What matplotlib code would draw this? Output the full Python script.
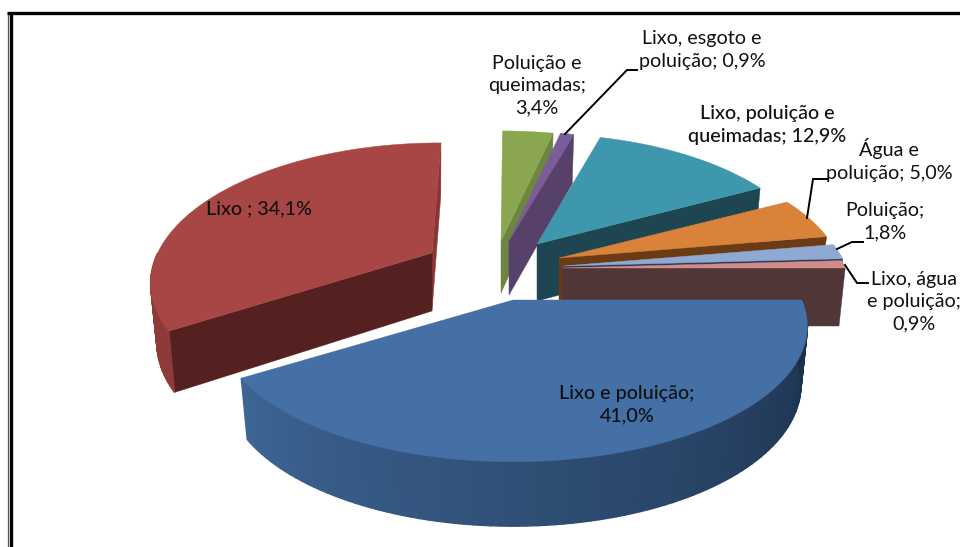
import numpy as np
import matplotlib
matplotlib.use('Agg')
import matplotlib.pyplot as plt
from matplotlib.patches import Polygon

# slice values, clockwise starting at 3 o'clock
names = ['Lixo e poluição;\n', 'Lixo ; ', 'Poluição e\nqueimadas;\n', 'Lixo, esgoto e\npoluição; ',
         'Lixo, poluição e\nqueimadas; ', 'Água e\npoluição; ', 'Poluição;\n', 'Lixo, água\ne poluição;\n']
values = [41.0, 34.1, 3.4, 0.9, 12.9, 5.0, 1.8, 0.9]

top_colors = ['#4470a5', '#a74644', '#8aa64f', '#7a5c9a', '#3f97ae', '#d9823a', '#8fa9d3', '#d18c8a']
wall_colors = ['#2a4468', '#552020', '#6c8540', '#574069', '#1d4552', '#6a3b14', '#2c3e55', '#503636']

# exploded position of each slice tip on the page
tip_x = [513, 432, 501, 509, 537, 559, 563, 562]
tip_y = [300, 253, 241, 241, 244, 258, 266, 268]
slice_scale = [0.98, 0.93, 0.96, 0.95, 0.93, 0.95, 0.96, 0.96]
slice_skew = [0, 9, 0, 0, 0, 0, 0, 0]
slice_depth = [58, 58, 52, 54, 57, 42, 58, 58]

label_x = [627, 259, 537, 702, 767, 889, 885, 914]
label_y = [405, 209, 86, 50, 125, 160, 222, 302]

RX, RY, PERSP = 295, 131, 0.19


def rim(theta, i):
    t = np.radians(theta)
    u, v = np.cos(t), np.sin(t)
    d = 1 + PERSP * v
    x = tip_x[i] + (RX * slice_scale[i] * u + slice_skew[i] * v) / d
    y = tip_y[i] - RY * v / d
    return x, y


def low(theta, i):
    # bottom edge of the wall under a rim point, drawn slightly inward
    x, y = rim(theta, i)
    d = slice_depth[i] / (1 + 0.1 * np.sin(np.radians(theta)))
    return tip_x[i] + (x - tip_x[i]) * 0.978, y + d


def face(ax, pts, color, z, lw=0.3):
    ax.add_patch(Polygon(pts, closed=True, fc=color, ec=color, lw=lw, zorder=z))


def shade(c1, c2, f):
    a = np.array(matplotlib.colors.to_rgb(c1))
    b = np.array(matplotlib.colors.to_rgb(c2))
    return tuple(a + (b - a) * f)


fig = plt.figure(figsize=(9.6, 5.47), dpi=100)
ax = fig.add_axes([0, 0, 1, 1])
ax.set_xlim(0, 960)
ax.set_ylim(547, 0)
ax.axis('off')

plt.rcParams['font.family'] = ['Lato', 'DejaVu Sans']

# angles from values
ends = 360 - np.cumsum(values) * 3.6
starts = np.r_[360, ends[:-1]]
draw_order = [1, 2, 3, 4, 5, 6, 7, 0]

for z, i in enumerate(draw_order):
    a1, a0 = starts[i], ends[i]   # a1 > a0
    base = z * 10 + 2
    tip = (tip_x[i], tip_y[i])
    tip_low = (tip_x[i], tip_y[i] + slice_depth[i])

    # cut face towards the viewer, the far cut of the red slice shows as a sliver
    if i == 1:
        face(ax, [tip, rim(a0, i), low(a0, i), tip_low], '#8a3533', base)
        face(ax, [tip, rim(a1, i), low(a1, i), tip_low], wall_colors[i], base)
    elif i != 0:
        face(ax, [tip, rim(a0, i), low(a0, i), tip_low], wall_colors[i], base)

    # outer rim wall, only where it faces front
    lo, hi = max(a0, 180), min(a1, 362)
    if hi > lo:
        steps = np.arange(lo, hi + 1.5, 1.5)
        for k in range(len(steps) - 1):
            s, e = steps[k], min(steps[k + 1], hi)
            f = (s - lo) / max(hi - lo, 1)
            if i == 0:
                col = shade('#3d6594', '#1b2e48', f)
            else:
                col = '#8e3a38'
            face(ax, [rim(s, i), rim(e, i), low(e, i), low(s, i)], col, base + 1, lw=1.0)

    # top face
    th = np.linspace(a1, a0, 120)
    xr, yr = rim(th, i)
    face(ax, [tip] + list(zip(xr, yr)), top_colors[i], base + 2)

# data labels
for i in range(len(values)):
    txt = names[i] + ('%.1f' % values[i]).replace('.', ',') + '%'
    ax.text(label_x[i], label_y[i], txt, ha='center', va='center', fontsize=14.2, color='#111111',
            linespacing=1.38, zorder=200, fontweight='medium' if i in (0, 1, 4) else 'normal')

# leader lines
leaders_x = [[565, 627, 637], [807, 813, 827], [837, 852, 863], [845, 857, 868]]
leaders_y = [[134, 70, 70], [218, 179, 179], [249, 242, 242], [265, 283, 283]]
for lx, ly in zip(leaders_x, leaders_y):
    ax.plot(lx, ly, color='black', lw=1.4, zorder=150, solid_joinstyle='miter')

# frame, left and top only
ax.plot([10.5, 10.5], [14, 547], color='black', lw=2.4, zorder=300, solid_capstyle='butt')
ax.plot([7.5, 7.5], [12, 547], color='#555555', lw=0.9, zorder=300, solid_capstyle='butt')
ax.plot([7, 960], [13, 13], color='black', lw=2.4, zorder=300, solid_capstyle='butt')

fig.savefig('out.png', dpi=100, facecolor='white')
